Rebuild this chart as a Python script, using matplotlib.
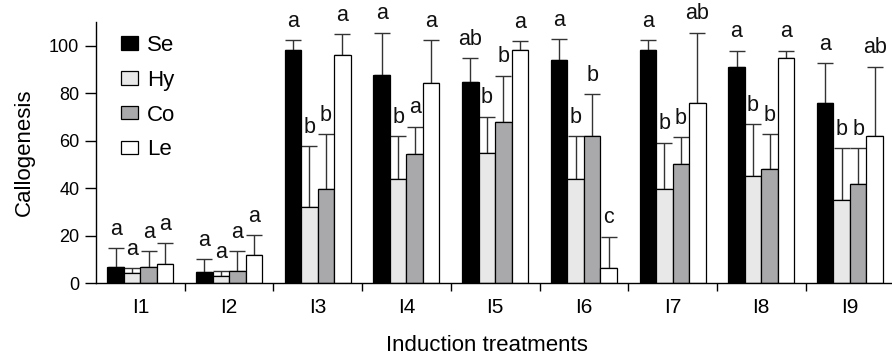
import matplotlib
matplotlib.use("Agg")
import matplotlib.pyplot as plt
import numpy as np

plt.rcParams['font.family'] = ['Liberation Sans', 'DejaVu Sans']

treatments = ['I1', 'I2', 'I3', 'I4', 'I5', 'I6', 'I7', 'I8', 'I9']
series = ['Se', 'Hy', 'Co', 'Le']

# means per series across treatments
se_mean = [6.6, 4.5, 98.2, 87.7, 84.9, 94.0, 98.2, 91.2, 75.8]
hy_mean = [4.2, 3.1, 32.0, 43.9, 55.0, 43.9, 39.7, 45.3, 34.8]
co_mean = [6.6, 5.2, 39.7, 54.3, 68.0, 62.0, 50.2, 48.0, 41.8]
le_mean = [8.0, 11.9, 96.1, 84.2, 98.2, 6.3, 75.8, 94.7, 62.0]

# upper error (SD) per series
se_err = [8.1, 5.6, 4.2, 17.9, 9.8, 8.8, 4.2, 6.7, 16.8]
hy_err = [2.1, 1.8, 25.8, 18.1, 15.1, 18.1, 19.5, 21.6, 22.0]
co_err = [6.7, 8.1, 23.0, 11.6, 19.4, 17.7, 11.2, 14.7, 15.0]
le_err = [8.8, 8.3, 8.9, 18.2, 3.9, 13.3, 29.8, 3.2, 29.2]

# significance letters
se_lab = ['a', 'a', 'a', 'a', 'ab', 'a', 'a', 'a', 'a']
hy_lab = ['a', 'a', 'b', 'b', 'b', 'b', 'b', 'b', 'b']
co_lab = ['a', 'a', 'b', 'a', 'b', 'b', 'b', 'b', 'b']
le_lab = ['a', 'a', 'a', 'a', 'a', 'c', 'ab', 'a', 'ab']

means = [se_mean, hy_mean, co_mean, le_mean]
errs = [se_err, hy_err, co_err, le_err]
labels = [se_lab, hy_lab, co_lab, le_lab]
colors = ['#000000', '#e8e8e8', '#a9a9ac', '#ffffff']

fig = plt.figure(figsize=(8.92, 3.56), dpi=100)
ax = fig.add_axes([0.1076, 0.205, 0.895, 0.733])

x = np.arange(len(treatments))
width = 0.186

for k in range(4):
    pos = x + (k - 1.5) * width
    ax.bar(pos, means[k], width, color=colors[k], edgecolor='black',
           linewidth=0.9, label=series[k], zorder=2)
    ax.errorbar(pos, means[k], yerr=[np.zeros(len(x)), errs[k]], fmt='none',
                ecolor='#333333', elinewidth=1.0, capsize=5.5, capthick=1.0,
                zorder=1)
    for p, m, e, t in zip(pos, means[k], errs[k], labels[k]):
        ax.text(p, m + e + 3.5, t, ha='center', va='bottom', fontsize=15.5,
                color='#111111')

ax.set_xlim(-0.5, 8.5)
ax.set_ylim(0, 110)
ax.set_yticks([0, 20, 40, 60, 80, 100])
ax.set_xticks(x)
ax.set_xticklabels(treatments, fontsize=15)
ax.set_xticks(np.arange(0.5, 8.5, 1), minor=True)
ax.tick_params(axis='x', which='major', length=0, pad=11)
ax.tick_params(axis='x', which='minor', length=6, width=1, direction='out')
ax.tick_params(axis='y', length=8, width=1, labelsize=13, pad=4)

for s in ['top', 'right']:
    ax.spines[s].set_visible(False)
for s in ['left', 'bottom']:
    ax.spines[s].set_linewidth(1)

ax.set_ylabel('Callogenesis', fontsize=16, labelpad=10)
ax.set_xlabel('Induction treatments', fontsize=16)
ax.xaxis.set_label_coords(0.49, -0.2)

ax.legend(loc='upper left', bbox_to_anchor=(0.012, 1.01), frameon=False,
          fontsize=16, handlelength=0.75, handleheight=0.55,
          handletextpad=0.4, labelspacing=0.62, borderaxespad=0.3)

fig.savefig('out.png', dpi=100)
